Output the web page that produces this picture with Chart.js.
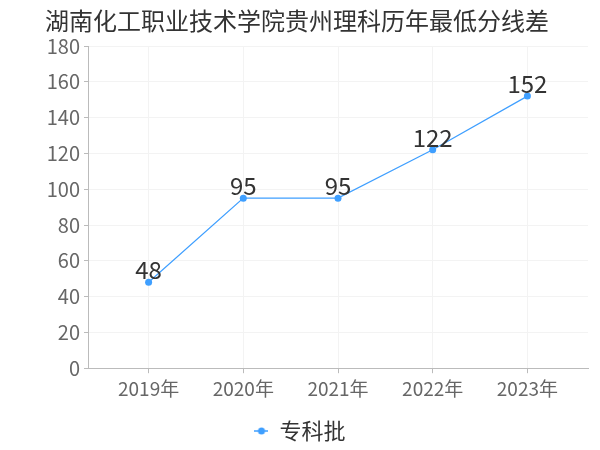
<!DOCTYPE html>
<html>
<head>
<meta charset="utf-8">
<script src="https://cdn.jsdelivr.net/npm/chart.js@4.4.0/dist/chart.umd.min.js"></script>
<style>
  html,body{margin:0;padding:0;background:#fff;}
  #wrap{position:relative;width:600px;height:450px;}
  #title{position:absolute;left:45px;top:2px;font:24px "Noto Sans CJK SC",sans-serif;color:#333;white-space:nowrap;}
</style>
</head>
<body>
<div id="wrap">
  <div id="title">湖南化工职业技术学院贵州理科历年最低分线差</div>
  <canvas id="c" width="600" height="450"></canvas>
</div>
<script>
const years = ['2019年','2020年','2021年','2022年','2023年'];
const scores = [48, 95, 95, 122, 152];
const seriesName = '专科批';
const yTicks = [0,20,40,60,80,100,120,140,160,180];

const FONT = '"Noto Sans CJK SC","DejaVu Sans",sans-serif';
const BLUE = '#3f9fff';

// legend marker: short line with a dot
function legendMark(){
  const cv = document.createElement('canvas');
  cv.width = 14; cv.height = 10;
  const g = cv.getContext('2d');
  g.strokeStyle = BLUE; g.lineWidth = 1.5;
  g.beginPath(); g.moveTo(0,5); g.lineTo(14,5); g.stroke();
  g.fillStyle = BLUE;
  g.beginPath(); g.arc(7,5,3.5,0,Math.PI*2); g.fill();
  return cv;
}

const valueLabels = {
  id:'valueLabels',
  afterDatasetsDraw(chart){
    const ctx = chart.ctx;
    const meta = chart.getDatasetMeta(0);
    ctx.save();
    ctx.font = '24px ' + FONT;
    ctx.fillStyle = '#333';
    ctx.textAlign = 'center';
    ctx.textBaseline = 'alphabetic';
    meta.data.forEach((p,i)=>{
      ctx.fillText(String(scores[i]), p.x, p.y - 3);
    });
    ctx.restore();
  }
};

new Chart(document.getElementById('c'), {
  type:'line',
  data:{
    datasets:[{
      label: seriesName,
      data: scores.map((v,i)=>({x:i, y:v})),
      borderColor: BLUE,
      backgroundColor: BLUE,
      borderWidth: 1.2,
      pointStyle:'circle',
      pointRadius: 3.5,
      pointHoverRadius: 3.5,
      pointBackgroundColor: BLUE,
      pointBorderWidth: 0,
      tension: 0
    }]
  },
  options:{
    responsive:false,
    animation:false,
    layout:{padding:{top:46,right:12,left:12,bottom:-2}},
    plugins:{
      legend:{
        position:'bottom',
        labels:{
          usePointStyle:true,
          pointStyleWidth:14,
          font:{size:22,family:FONT},
          color:'#333',
          padding:16,
          generateLabels(chart){
            return [{text:seriesName, pointStyle:legendMark(), fillStyle:BLUE, strokeStyle:BLUE, lineWidth:0, fontColor:'#333', datasetIndex:0}];
          }
        }
      },
      tooltip:{enabled:false}
    },
    scales:{
      x:{
        type:'linear',
        min:-0.64, max:4.64,
        afterBuildTicks(scale){ scale.ticks = years.map((y,i)=>({value:i})); },
        ticks:{
          callback:(v)=>years[v],
          font:{size:19,family:FONT},
          color:'#666',
          padding:4
        },
        grid:{color:'#f3f3f3', tickColor:'#bbb', tickLength:5, drawTicks:true},
        border:{color:'#bbb'}
      },
      y:{
        min:0, max:180,
        afterBuildTicks(scale){ scale.ticks = yTicks.map(v=>({value:v})); },
        afterFit(scale){ scale.width = 76; },
        ticks:{
          font:{size:20,family:FONT},
          color:'#666',
          padding:4
        },
        grid:{color:'#f3f3f3', tickColor:'#bbb', tickLength:4},
        border:{color:'#bbb'}
      }
    }
  },
  plugins:[valueLabels]
});
</script>
</body>
</html>
